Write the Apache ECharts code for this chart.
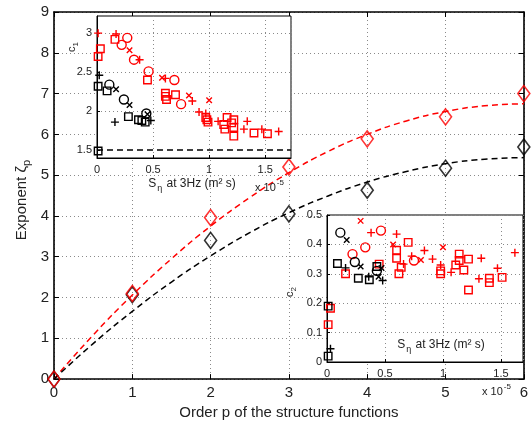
<!DOCTYPE html>
<html><head><meta charset="utf-8">
<script src="https://cdn.jsdelivr.net/npm/echarts@6/dist/echarts.min.js"></script>
<style>html,body{margin:0;padding:0;background:#fff}#c{width:531px;height:425px}</style>
</head><body><div id="c"></div>
<script>
// ---- main panel ----
const pOrder = [0, 1, 2, 3, 4, 5, 6];
const zetaRed = [0, 2.1, 3.96, 5.2, 5.89, 6.43, 7.0];
const zetaBlack = [0, 2.07, 3.4, 4.05, 4.63, 5.17, 5.69];
const pFit = [0, 0.5, 1, 1.5, 2, 2.5, 3, 3.5, 4, 4.5, 5, 5.5, 6];
const fitRed = [0, 1.08, 2.06, 2.95, 3.75, 4.45, 5.06, 5.58, 6.0, 6.33, 6.56, 6.70, 6.75];
const fitBlack = [0, 0.87, 1.66, 2.38, 3.02, 3.59, 4.08, 4.49, 4.83, 5.09, 5.28, 5.39, 5.43];
const mainXTicks = [0, 6, 1];
const mainYTicks = [0, 9, 1];

// ---- inset 1 (c1) ----
const c1RedSquare = [[0.01,2.70],[0.03,2.80],[0.16,2.92],[0.45,2.40],[0.61,2.23],[0.61,2.19],[0.62,2.15],[0.70,2.21],[0.97,1.92],[0.98,1.89],[0.99,1.86],[1.13,1.83],[1.14,1.77],[1.16,1.92],[1.20,1.85],[1.22,1.89],[1.22,1.79],[1.22,1.68],[1.40,1.72],[1.52,1.71]];
const c1RedCircle = [[0.22,2.85],[0.27,2.94],[0.33,2.66],[0.46,2.51],[0.69,2.40],[0.75,2.09]];
const c1RedCross = [[0.29,2.78],[0.58,2.43],[0.82,2.20],[1.0,2.14]];
const c1RedPlus = [[0.01,3.0],[0.17,2.99],[0.38,2.66],[0.61,2.42],[0.85,2.13],[0.91,1.99],[0.97,1.97],[1.08,1.87],[1.31,1.77],[1.34,1.87],[1.47,1.77],[1.62,1.74]];
const c1BlackSquare = [[0.01,2.32],[0.09,2.26],[0.28,1.93],[0.37,1.89],[0.40,1.88],[0.43,1.86],[0.01,1.49]];
const c1BlackCircle = [[0.11,2.34],[0.24,2.15],[0.44,1.97]];
const c1BlackCross = [[0.17,2.28],[0.29,2.08],[0.45,1.96]];
const c1BlackPlus = [[0.02,2.46],[0.16,1.86],[0.48,1.88]];
const c1Ref = 1.5;
const c1YTicks = [1.5, 2, 2.5, 3];
const c1YGrid = [2, 2.5, 3];
const c1XRange = [0, 1.73, 0.5];
const c1YRange = [1.4, 3.22];

// ---- inset 2 (c2) ----
const c2RedSquare = [[0.16,0.30],[0.45,0.333],[0.60,0.38],[0.60,0.353],[0.64,0.322],[0.62,0.30],[0.70,0.407],[0.98,0.31],[0.98,0.30],[1.11,0.33],[1.14,0.367],[1.14,0.345],[1.18,0.313],[1.22,0.35],[1.22,0.245],[1.40,0.285],[1.40,0.27],[1.51,0.288],[0.03,0.183],[0.01,0.127]];
const c2RedCircle = [[0.22,0.367],[0.33,0.39],[0.465,0.447],[0.75,0.345]];
const c2RedCross = [[0.29,0.48],[0.57,0.40],[0.81,0.347],[1.0,0.39]];
const c2RedPlus = [[0.38,0.44],[0.60,0.435],[0.66,0.333],[0.73,0.36],[0.84,0.379],[0.91,0.35],[0.98,0.33],[1.07,0.305],[1.31,0.283],[1.33,0.353],[1.47,0.319],[1.62,0.372]];
const c2BlackSquare = [[0.09,0.335],[0.27,0.285],[0.365,0.28],[0.43,0.325],[0.01,0.19],[0.01,0.02]];
const c2BlackCircle = [[0.115,0.44],[0.24,0.34],[0.43,0.31]];
const c2BlackCross = [[0.17,0.415],[0.29,0.325],[0.445,0.29],[0.47,0.32]];
const c2BlackPlus = [[0.16,0.32],[0.36,0.29],[0.48,0.277],[0.03,0.045]];
const c2XRange = [0, 1.69, 0.5];
const c2YRange = [0, 0.5, 0.1];

const RED = '#ff0000', BLK = '#000000';
const FONT = '"Liberation Sans", Arial, sans-serif';
const PLUS = 'path://M5,0L5,10M0,5L10,5';
const CROSS = 'path://M0,0L10,10M10,0L0,10';
const dotted = { color: '#8a8a8a', width: 1, type: [1, 3] };
const gridLine = { show: true, lineStyle: dotted };
const zip = (a, b) => a.map((v, i) => [v, b[i]]);

function markerSeries(data, color, kind, xi, yi) {
  const m = {
    square: { symbol: 'rect', size: 7.5 },
    circle: { symbol: 'circle', size: 9 },
    plus: { symbol: PLUS, size: 8 },
    cross: { symbol: CROSS, size: 5.5 }
  }[kind];
  return {
    type: 'scatter', xAxisIndex: xi, yAxisIndex: yi, data: data, z: 8,
    symbol: m.symbol, symbolSize: m.size, symbolKeepAspect: true,
    itemStyle: { color: 'none', borderColor: color, borderWidth: 1.4, opacity: 1 },
    emphasis: { disabled: true }, silent: true
  };
}

const insetLabel = { color: '#222', fontSize: 11, fontFamily: FONT };
const boxLine = { show: true, onZero: false, lineStyle: { color: '#000', width: 1 } };
const mainLine = { show: true, onZero: false, lineStyle: { color: '#000', width: 1.6 } };
const mainTick = { show: true, inside: true, length: 5, lineStyle: { color: '#000' } };

const option = {
  animation: false,
  backgroundColor: '#fff',
  grid: [
    { left: 54, top: 12, width: 476, height: 375, z: 0 },
    { left: 97, top: 16, width: 194, height: 142, show: true, backgroundColor: '#fff', borderColor: '#000', borderWidth: 1, z: 5 },
    { left: 327, top: 215, width: 196, height: 147, show: true, backgroundColor: '#fff', borderColor: '#000', borderWidth: 1, z: 5 }
  ],
  xAxis: [
    { type: 'value', gridIndex: 0, min: mainXTicks[0], max: mainXTicks[1], interval: mainXTicks[2], z: 1,
      axisLine: mainLine, axisTick: mainTick,
      axisLabel: { color: '#222', fontSize: 15, fontFamily: FONT, margin: 6 },
      splitLine: gridLine,
      name: 'Order p of the structure functions', nameLocation: 'middle', nameGap: 25,
      nameTextStyle: { color: '#222', fontSize: 15, fontFamily: FONT } },
    { type: 'value', gridIndex: 0, position: 'top', min: mainXTicks[0], max: mainXTicks[1], interval: mainXTicks[2], z: 1,
      axisLine: mainLine, axisTick: mainTick,
      axisLabel: { show: false }, splitLine: { show: false } },
    { type: 'value', gridIndex: 1, min: c1XRange[0], max: c1XRange[1], interval: c1XRange[2], z: 6,
      axisLine: boxLine, axisTick: { show: true, inside: true, length: 3, lineStyle: { color: '#000' } },
      axisLabel: Object.assign({ margin: 6, showMaxLabel: false }, insetLabel),
      splitLine: gridLine },
    { type: 'value', gridIndex: 2, min: c2XRange[0], max: c2XRange[1], interval: c2XRange[2], z: 6,
      axisLine: boxLine, axisTick: { show: true, inside: true, length: 3, lineStyle: { color: '#000' } },
      axisLabel: Object.assign({ margin: 6, showMaxLabel: false }, insetLabel),
      splitLine: gridLine }
  ],
  yAxis: [
    { type: 'value', gridIndex: 0, min: mainYTicks[0], max: mainYTicks[1], interval: mainYTicks[2], z: 1,
      axisLine: mainLine, axisTick: mainTick,
      axisLabel: { color: '#222', fontSize: 15, fontFamily: FONT, margin: 5 },
      splitLine: gridLine },
    { type: 'value', gridIndex: 0, position: 'right', min: mainYTicks[0], max: mainYTicks[1], interval: mainYTicks[2], z: 1,
      axisLine: mainLine, axisTick: mainTick,
      axisLabel: { show: false }, splitLine: { show: false } },
    { type: 'value', gridIndex: 1, min: c1YRange[0], max: c1YRange[1], z: 6,
      axisLine: boxLine,
      axisTick: { show: true, inside: true, length: 3, customValues: c1YTicks, lineStyle: { color: '#000' } },
      axisLabel: Object.assign({ margin: 5, customValues: c1YTicks }, insetLabel),
      splitLine: { show: false } },
    { type: 'value', gridIndex: 2, min: c2YRange[0], max: c2YRange[1], interval: c2YRange[2], z: 6,
      axisLine: boxLine, axisTick: { show: true, inside: true, length: 3, lineStyle: { color: '#000' } },
      axisLabel: Object.assign({ margin: 5 }, insetLabel),
      splitLine: gridLine }
  ],
  series: [
    { type: 'line', xAxisIndex: 0, yAxisIndex: 0, data: zip(pFit, fitRed), smooth: true, showSymbol: false, z: 3,
      lineStyle: { color: RED, width: 1.5, type: [6, 4] }, silent: true },
    { type: 'line', xAxisIndex: 0, yAxisIndex: 0, data: zip(pFit, fitBlack), smooth: true, showSymbol: false, z: 3,
      lineStyle: { color: BLK, width: 1.5, type: [6, 4] }, silent: true },
    { type: 'scatter', xAxisIndex: 0, yAxisIndex: 0, data: zip(pOrder, zetaBlack), symbol: 'diamond', symbolSize: [12, 16], z: 4,
      itemStyle: { color: 'none', borderColor: BLK, borderWidth: 1.6 }, silent: true },
    { type: 'scatter', xAxisIndex: 0, yAxisIndex: 0, data: zip(pOrder, zetaRed), symbol: 'diamond', symbolSize: [12, 16], z: 4,
      itemStyle: { color: 'none', borderColor: RED, borderWidth: 1.6 }, silent: true },

    Object.assign(markerSeries([], BLK, 'square', 2, 2), {
      z: 7,
      markLine: { silent: true, symbol: 'none', label: { show: false }, animation: false,
        lineStyle: dotted, data: c1YGrid.map(v => ({ yAxis: v })) } }),
    Object.assign(markerSeries([], BLK, 'square', 2, 2), {
      z: 7,
      markLine: { silent: true, symbol: 'none', label: { show: false }, animation: false,
        lineStyle: { color: '#000', width: 1.5, type: [6, 4] }, data: [{ yAxis: c1Ref }] } }),
    markerSeries(c1RedSquare, RED, 'square', 2, 2),
    markerSeries(c1RedCircle, RED, 'circle', 2, 2),
    markerSeries(c1RedCross, RED, 'cross', 2, 2),
    markerSeries(c1RedPlus, RED, 'plus', 2, 2),
    markerSeries(c1BlackSquare, BLK, 'square', 2, 2),
    markerSeries(c1BlackCircle, BLK, 'circle', 2, 2),
    markerSeries(c1BlackCross, BLK, 'cross', 2, 2),
    markerSeries(c1BlackPlus, BLK, 'plus', 2, 2),

    markerSeries(c2RedSquare, RED, 'square', 3, 3),
    markerSeries(c2RedCircle, RED, 'circle', 3, 3),
    markerSeries(c2RedCross, RED, 'cross', 3, 3),
    markerSeries(c2RedPlus, RED, 'plus', 3, 3),
    markerSeries(c2BlackSquare, BLK, 'square', 3, 3),
    markerSeries(c2BlackCircle, BLK, 'circle', 3, 3),
    markerSeries(c2BlackCross, BLK, 'cross', 3, 3),
    markerSeries(c2BlackPlus, BLK, 'plus', 3, 3)
  ],
  graphic: [
    { type: 'text', x: 22, y: 200, rotation: Math.PI / 2, z: 20,
      style: { text: '{a|Exponent ζ}{b|p}', align: 'center', verticalAlign: 'middle',
        rich: { a: { fontSize: 15, fontFamily: FONT, fill: '#222', lineHeight: 20 },
                b: { fontSize: 11, fontFamily: FONT, fill: '#222', verticalAlign: 'bottom', lineHeight: 20, padding: [6, 0, 0, 0] } } } },
    { type: 'text', x: 72, y: 47, rotation: Math.PI / 2, z: 20,
      style: { text: '{a|c}{b|1}', align: 'center', verticalAlign: 'middle',
        rich: { a: { fontSize: 11, fontFamily: FONT, fill: '#222', lineHeight: 16 },
                b: { fontSize: 8, fontFamily: FONT, fill: '#222', verticalAlign: 'bottom', lineHeight: 16, padding: [5, 0, 0, 0] } } } },
    { type: 'text', x: 192, y: 184, z: 20,
      style: { text: '{a|S}{b|η}{a| at 3Hz (m² s)}', align: 'center', verticalAlign: 'middle',
        rich: { a: { fontSize: 12, fontFamily: FONT, fill: '#222', lineHeight: 18 },
                b: { fontSize: 9, fontFamily: FONT, fill: '#222', verticalAlign: 'bottom', lineHeight: 18, padding: [8, 1, 0, 1] } } } },
    { type: 'text', x: 255, y: 188, z: 20,
      style: { text: '{a|x 10}{b|-5}', align: 'left', verticalAlign: 'middle',
        rich: { a: { fontSize: 11, fontFamily: FONT, fill: '#222', lineHeight: 18 },
                b: { fontSize: 8, fontFamily: FONT, fill: '#222', verticalAlign: 'top', lineHeight: 18, padding: [0, 0, 8, 1] } } } },
    { type: 'text', x: 290, y: 292, rotation: Math.PI / 2, z: 20,
      style: { text: '{a|c}{b|2}', align: 'center', verticalAlign: 'middle',
        rich: { a: { fontSize: 11, fontFamily: FONT, fill: '#222', lineHeight: 16 },
                b: { fontSize: 8, fontFamily: FONT, fill: '#222', verticalAlign: 'bottom', lineHeight: 16, padding: [5, 0, 0, 0] } } } },
    { type: 'text', x: 441, y: 345, z: 20,
      style: { text: '{a|S}{b|η}{a| at 3Hz (m² s)}', align: 'center', verticalAlign: 'middle',
        rich: { a: { fontSize: 12, fontFamily: FONT, fill: '#222', lineHeight: 18 },
                b: { fontSize: 9, fontFamily: FONT, fill: '#222', verticalAlign: 'bottom', lineHeight: 18, padding: [8, 1, 0, 1] } } } },
    { type: 'text', x: 482, y: 392, z: 20,
      style: { text: '{a|x 10}{b|-5}', align: 'left', verticalAlign: 'middle',
        rich: { a: { fontSize: 11, fontFamily: FONT, fill: '#222', lineHeight: 18 },
                b: { fontSize: 8, fontFamily: FONT, fill: '#222', verticalAlign: 'top', lineHeight: 18, padding: [0, 0, 8, 1] } } } }
  ]
};
const chart = echarts.init(document.getElementById('c'), null, { renderer: 'canvas' });
chart.setOption(option);
</script></body></html>
